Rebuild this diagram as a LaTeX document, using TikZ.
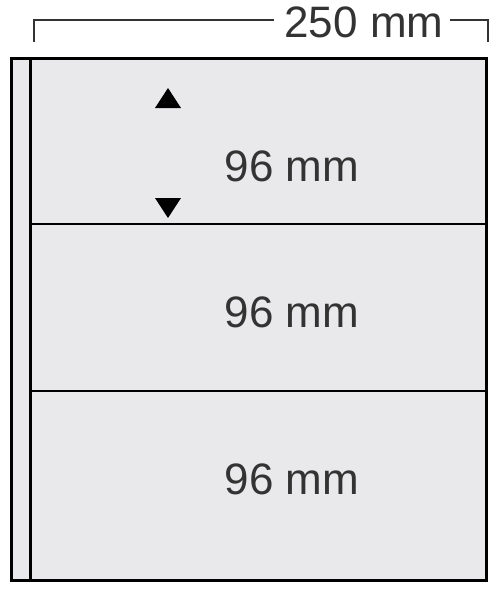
\documentclass[tikz,border=0pt]{standalone}
\usepackage{fontspec}
\setmainfont{Liberation Sans}
\definecolor{feuille}{HTML}{E9E9EB}
\definecolor{encre}{HTML}{333333}

\newcommand\PMFlecheHaut[2] {
  \fill[black] (#1-13, #2+10) -- ++(26, 0) -- (#1, #2-10) -- cycle ;
}
\newcommand\PMFlecheBas[2] {
  \fill[black] (#1-13, #2-10) -- ++(26, 0) -- (#1, #2+10) -- cycle ;
}

\begin{document}
\begin{tikzpicture}[x=1pt, y=-1pt,
    cote/.style={draw=encre, line width=1.6pt},
    texte/.style={text=encre, inner sep=0pt, font=\fontsize{44}{44}\selectfont}]
   \useasboundingbox (0, 0) rectangle (500, 600) ;
   % la feuille
   \draw[fill=feuille, line width=3pt] (11.5, 58) rectangle (486.5, 580) ;
   \draw[line width=2.5pt] (30.5, 58) -- (30.5, 580) ;
   \draw[line width=2pt] (30.5, 224) -- (486.5, 224) ;
   \draw[line width=2pt] (30.5, 391) -- (486.5, 391) ;
   % la cote
   \node[texte, anchor=base] (largeur) at (364, 37) {250 mm} ;
   \coordinate (gauche) at (34, 42) ;
   \coordinate (droite) at (488, 42) ;
   \draw[cote] (gauche) -- (34, 20) -- ([xshift=-10pt]largeur.west |- 0, 20) ;
   \draw[cote] ([xshift=6pt]largeur.east |- 0, 20) -- (488, 20) -- (droite) ;
   % les hauteurs
   \node[texte] (haut) at (292, 166) {96 mm} ;
   \node[texte] (milieu) at (292, 312) {96 mm} ;
   \node[texte] (bas) at (292, 479) {96 mm} ;
   \PMFlecheHaut{168}{98}
   \PMFlecheBas{168}{208}
\end{tikzpicture}
\end{document}
